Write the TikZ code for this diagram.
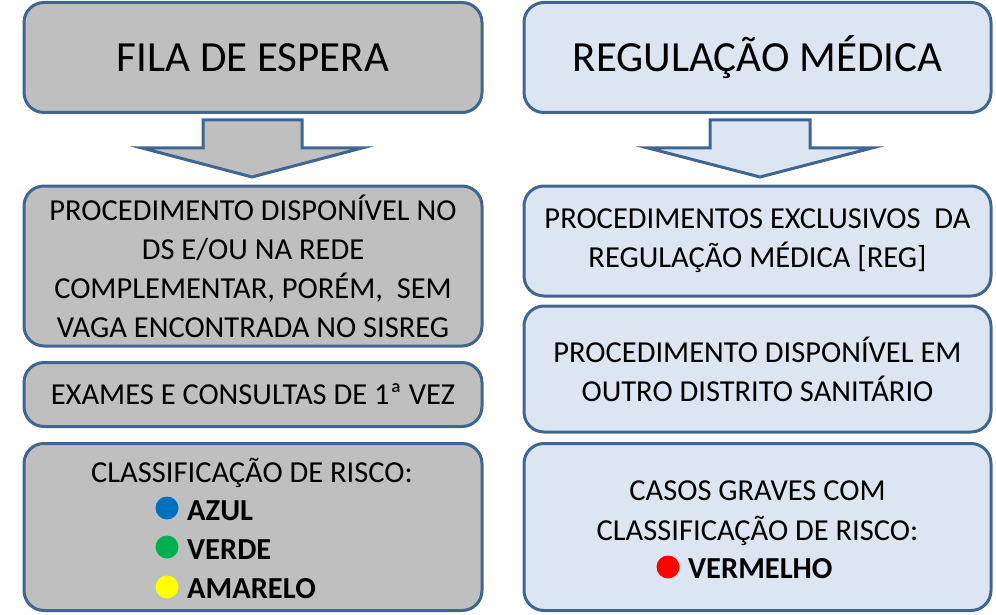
\documentclass[tikz,border=0pt]{standalone}
\usepackage{fontspec}
\setmainfont{Carlito}
\usetikzlibrary{positioning}
\definecolor{borda}{RGB}{65,101,145}
\definecolor{cinza}{RGB}{191,191,191}
\definecolor{azulclaro}{RGB}{220,230,242}
\definecolor{bolaazul}{RGB}{0,112,192}
\definecolor{bolaverde}{RGB}{0,176,80}
\definecolor{bolaamarela}{RGB}{255,255,0}
\definecolor{bolavermelha}{RGB}{255,0,0}
\tikzset{
  caixa/.style={rectangle, rounded corners=20pt, draw=borda, line width=3pt, align=center, inner sep=0pt, font=\fontsize{30.5}{39}\selectfont},
  titulo/.style={caixa, font=\fontsize{43}{52}\selectfont},
  seta/.style={draw=borda, line width=3pt, line join=miter},
  bola/.style={circle, inner sep=0pt, minimum size=23pt},
  texto/.style={inner sep=0pt, anchor=base, font=\fontsize{30.5}{39}\selectfont},
  item/.style={inner sep=0pt, anchor=base west, font=\fontsize{30.5}{39}\selectfont\bfseries}
}

\begin{document}
\begin{tikzpicture}[x=1pt, y=-1pt]
\useasboundingbox (0,0) rectangle (996,615);
% coluna da esquerda
\node[titulo, fill=cinza, minimum width=458pt, minimum height=110pt] (fila) at (253,57.5) {FILA DE ESPERA};
\node[caixa, fill=cinza, minimum width=458pt, minimum height=160pt] (proc) at (253,266) {PROCEDIMENTO DISPONÍVEL NO\\DS E/OU NA REDE\\COMPLEMENTAR, PORÉM,\ \ SEM\\VAGA ENCONTRADA NO SISREG};
\node[caixa, fill=cinza, minimum width=458pt, minimum height=64pt] (exames) at (253,394.5) {EXAMES E CONSULTAS DE 1ª VEZ};
\node[caixa, fill=cinza, minimum width=458pt, minimum height=167pt] (classif) at (253,527) {};
\node[texto] (risco) at (252,482) {CLASSIFICAÇÃO DE RISCO:};
\node[bola, fill=bolaazul] (bAzul) at (167,508) {};
\node[bola, fill=bolaverde] (bVerde) at (167,547) {};
\node[bola, fill=bolaamarela] (bAmarelo) at (167,587) {};
\node[item] (azul) at (187,520) {AZUL};
\node[item] (verde) at (187,559) {VERDE};
\node[item] (amarelo) at (187,598) {AMARELO};
\draw[seta, fill=cinza] (203,120) -- (302,120) -- (302,148) -- (362,148) -- (252,177) -- (142,148) -- (203,148) -- cycle;

% coluna da direita
\node[titulo, fill=azulclaro, minimum width=467pt, minimum height=110pt] (regul) at (757.5,57.5) {REGULAÇÃO MÉDICA};
\node[caixa, fill=azulclaro, minimum width=467pt, minimum height=110pt] (excl) at (757.5,241) {PROCEDIMENTOS EXCLUSIVOS\ \ DA\\REGULAÇÃO MÉDICA [REG]};
\node[caixa, fill=azulclaro, minimum width=467pt, minimum height=126pt] (outro) at (757.5,369) {PROCEDIMENTO DISPONÍVEL EM\\OUTRO DISTRITO SANITÁRIO};
\node[caixa, fill=azulclaro, minimum width=467pt, minimum height=167pt] (graves) at (757.5,527) {};
\node[texto] (casos) at (757.5,500) {CASOS GRAVES COM};
\node[texto] (risco2) at (757.5,540) {CLASSIFICAÇÃO DE RISCO:};
\node[bola, fill=bolavermelha] (bVermelho) at (668,567) {};
\node[item] (vermelho) at (688,578) {VERMELHO};
\draw[seta, fill=azulclaro] (710,120) -- (810,120) -- (810,148) -- (872,148) -- (760,177) -- (648,148) -- (710,148) -- cycle;
\end{tikzpicture}
\end{document}
